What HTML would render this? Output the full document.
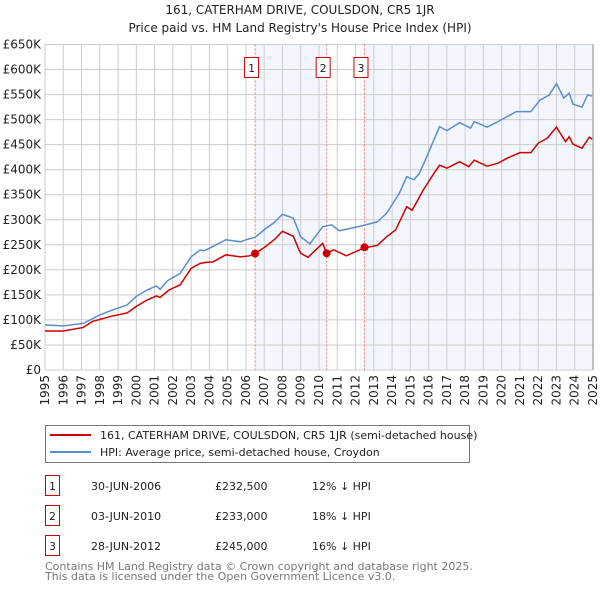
<!DOCTYPE html>
<html><head><meta charset="utf-8"><style>
body{margin:0;background:#fff;}
svg{display:block;font-family:"DejaVu Sans","Liberation Sans",sans-serif;}
</style></head><body>
<svg id="c" width="600" height="590" viewBox="0 0 600 590">
<text x="300" y="14" text-anchor="middle" font-size="12" fill="#222">161, CATERHAM DRIVE, COULSDON, CR5 1JR</text>
<text x="300" y="32" text-anchor="middle" font-size="12" fill="#222">Price paid vs. HM Land Registry's House Price Index (HPI)</text>
<g id="plot"></g>
<rect x="45.5" y="425.5" width="424" height="37" fill="#fff" stroke="#777"/>
<line x1="50" y1="435" x2="91" y2="435" stroke="#cc0000" stroke-width="2"/>
<text x="100" y="439" font-size="11" fill="#222">161, CATERHAM DRIVE, COULSDON, CR5 1JR (semi-detached house)</text>
<line x1="50" y1="452" x2="91" y2="452" stroke="#5b8ccf" stroke-width="2"/>
<text x="100" y="456" font-size="11" fill="#222">HPI: Average price, semi-detached house, Croydon</text>
<g font-size="11" fill="#222">
<rect x="45.5" y="475.5" width="14" height="20" fill="none" stroke="#cc0000"/><text x="52.5" y="490" text-anchor="middle">1</text>
<text x="91" y="490">30-JUN-2006</text><text x="215" y="490">£232,500</text><text x="312" y="490">12% ↓ HPI</text>
<rect x="45.5" y="505.5" width="14" height="20" fill="none" stroke="#cc0000"/><text x="52.5" y="520" text-anchor="middle">2</text>
<text x="91" y="520">03-JUN-2010</text><text x="215" y="520">£233,000</text><text x="312" y="520">18% ↓ HPI</text>
<rect x="45.5" y="535.5" width="14" height="20" fill="none" stroke="#cc0000"/><text x="52.5" y="550" text-anchor="middle">3</text>
<text x="91" y="550">28-JUN-2012</text><text x="215" y="550">£245,000</text><text x="312" y="550">16% ↓ HPI</text>
</g>
<text x="45" y="570" font-size="11" fill="#777">Contains HM Land Registry data © Crown copyright and database right 2025.</text>
<text x="45" y="580" font-size="11" fill="#777">This data is licensed under the Open Government Licence v3.0.</text>
</svg>
<script>
const hpiYears=[1995,1996,1997.1,1998,1998.7,1999.5,2000,2000.6,2001.1,2001.3,2001.7,2002.4,2003,2003.5,2003.7,2004,2004.9,2005.7,2006,2006.5,2007.1,2007.5,2008,2008.6,2009,2009.5,2010.2,2010.7,2011.1,2012.25,2013.2,2013.7,2014.4,2014.8,2015.2,2015.5,2015.9,2016.6,2017,2017.7,2018.3,2018.5,2019.2,2019.9,2020.8,2021.6,2022.1,2022.6,2023,2023.4,2023.7,2023.9,2024.4,2024.7,2024.95];
const hpiValues=[90,88,93,110,120,130,147,160,168,161,178,193,226,240,238,243,260,256,260,265,283,293,311,303,266,252,286,290,278,287,296,313,353,386,380,393,426,486,478,494,483,496,485,498,516,516,539,549,572,543,553,531,525,549,547];
const priceYears=[1995,1996,1997.1,1997.6,1998.6,1999.5,2000,2000.6,2001.1,2001.3,2001.8,2002.4,2003,2003.5,2003.8,2004.2,2004.9,2005.7,2006.2,2006.5,2007.1,2007.6,2008,2008.6,2008.9,2009,2009.4,2010.2,2010.42,2010.8,2011.5,2012.4,2013.2,2013.7,2014.2,2014.8,2015.1,2015.7,2016.3,2016.6,2017,2017.7,2018.2,2018.5,2019.2,2019.8,2020.3,2021,2021.6,2022,2022.5,2023,2023.5,2023.7,2023.9,2024.4,2024.8,2024.95];
const priceValues=[78,78,85,97,107,114,127,140,148,145,160,170,203,213,215,216,230,226,228,232.5,247,262,277,267,240,233,225,253,233,240,228,243,249,266,280,326,319,359,393,409,403,416,406,419,407,413,423,434,434,453,463,485,456,466,451,443,465,461];
const saleLabels=["1","2","3"];
const saleYears=[2006.5,2010.42,2012.49];
const saleValues=[232.5,233,245];
const yTicks=[0,50,100,150,200,250,300,350,400,450,500,550,600,650];
const yTickLabels=["£0","£50K","£100K","£150K","£200K","£250K","£300K","£350K","£400K","£450K","£500K","£550K","£600K","£650K"];
const xTicks=[1995,1996,1997,1998,1999,2000,2001,2002,2003,2004,2005,2006,2007,2008,2009,2010,2011,2012,2013,2014,2015,2016,2017,2018,2019,2020,2021,2022,2023,2024,2025];

const X0=45,X1=593,Y0=370,Y1=44.5;
const xs=y=>X0+(y-1995)/30*(X1-X0);
const ys=v=>Y0-v/650*(Y0-Y1);
const NS="http://www.w3.org/2000/svg";
const g=document.getElementById('plot');
function mk(t,a){const e=document.createElementNS(NS,t);for(const k in a)e.setAttribute(k,a[k]);g.appendChild(e);return e;}
let s1=mk('rect',{x:xs(saleYears[0]),y:Y1,width:xs(saleYears[1])-xs(saleYears[0]),height:Y0-Y1,fill:'#eef3fc',opacity:0.7});


let s2=mk('rect',{x:xs(saleYears[2]),y:Y1,width:X1-xs(saleYears[2]),height:Y0-Y1,fill:'#eef3fc',opacity:0.7});


yTicks.forEach((v,i)=>{
  const l=mk('line',{x1:X0,x2:X1,y1:ys(v),y2:ys(v),stroke:'#ccc','stroke-width':1});
  
  
  const t=mk('text',{x:41,y:ys(v)+4,'text-anchor':'end','font-size':12,fill:'#222'});
  t.textContent=yTickLabels[i];
  
  
});
xTicks.forEach(yr=>{
  const l=mk('line',{x1:xs(yr),x2:xs(yr),y1:Y1,y2:Y0,stroke:'#ccc','stroke-width':1});
  
  
  const t=mk('text',{x:0,y:0,'text-anchor':'end','font-size':12,fill:'#222',transform:`translate(${xs(yr)+4},${Y0+5}) rotate(-90)`});
  t.textContent=yr;
  
  
});
saleYears.forEach((yr,i)=>{
  const l=mk('line',{x1:xs(yr),x2:xs(yr),y1:Y1,y2:Y0,stroke:'#f07070','stroke-width':1,'stroke-dasharray':'2,2'});
  
  
  const r=mk('rect',{x:xs(yr)-10.5,y:57.5,width:14,height:20,fill:'#fff',stroke:'#cc0000'});
  
  
  const t=mk('text',{x:xs(yr)-3.5,y:72,'text-anchor':'middle','font-size':11,fill:'#222'});
  t.textContent=saleLabels[i];
  
  
});
const hp=mk('polyline',{points:hpiYears.map((y,i)=>xs(y)+','+ys(hpiValues[i])).join(' '),fill:'none',stroke:'#5b8ccf','stroke-width':1.5});


const pp=mk('polyline',{points:priceYears.map((y,i)=>xs(y)+','+ys(priceValues[i])).join(' '),fill:'none',stroke:'#cc0000','stroke-width':1.5});


saleYears.forEach((yr,i)=>{
  const c=mk('circle',{cx:xs(yr),cy:ys(saleValues[i]),r:4,fill:'#cc0000'});
  
  
});
const ax=mk('line',{x1:X1,x2:X1,y1:Y1,y2:Y0,stroke:'#888','stroke-width':1});


</script>
</body></html>
